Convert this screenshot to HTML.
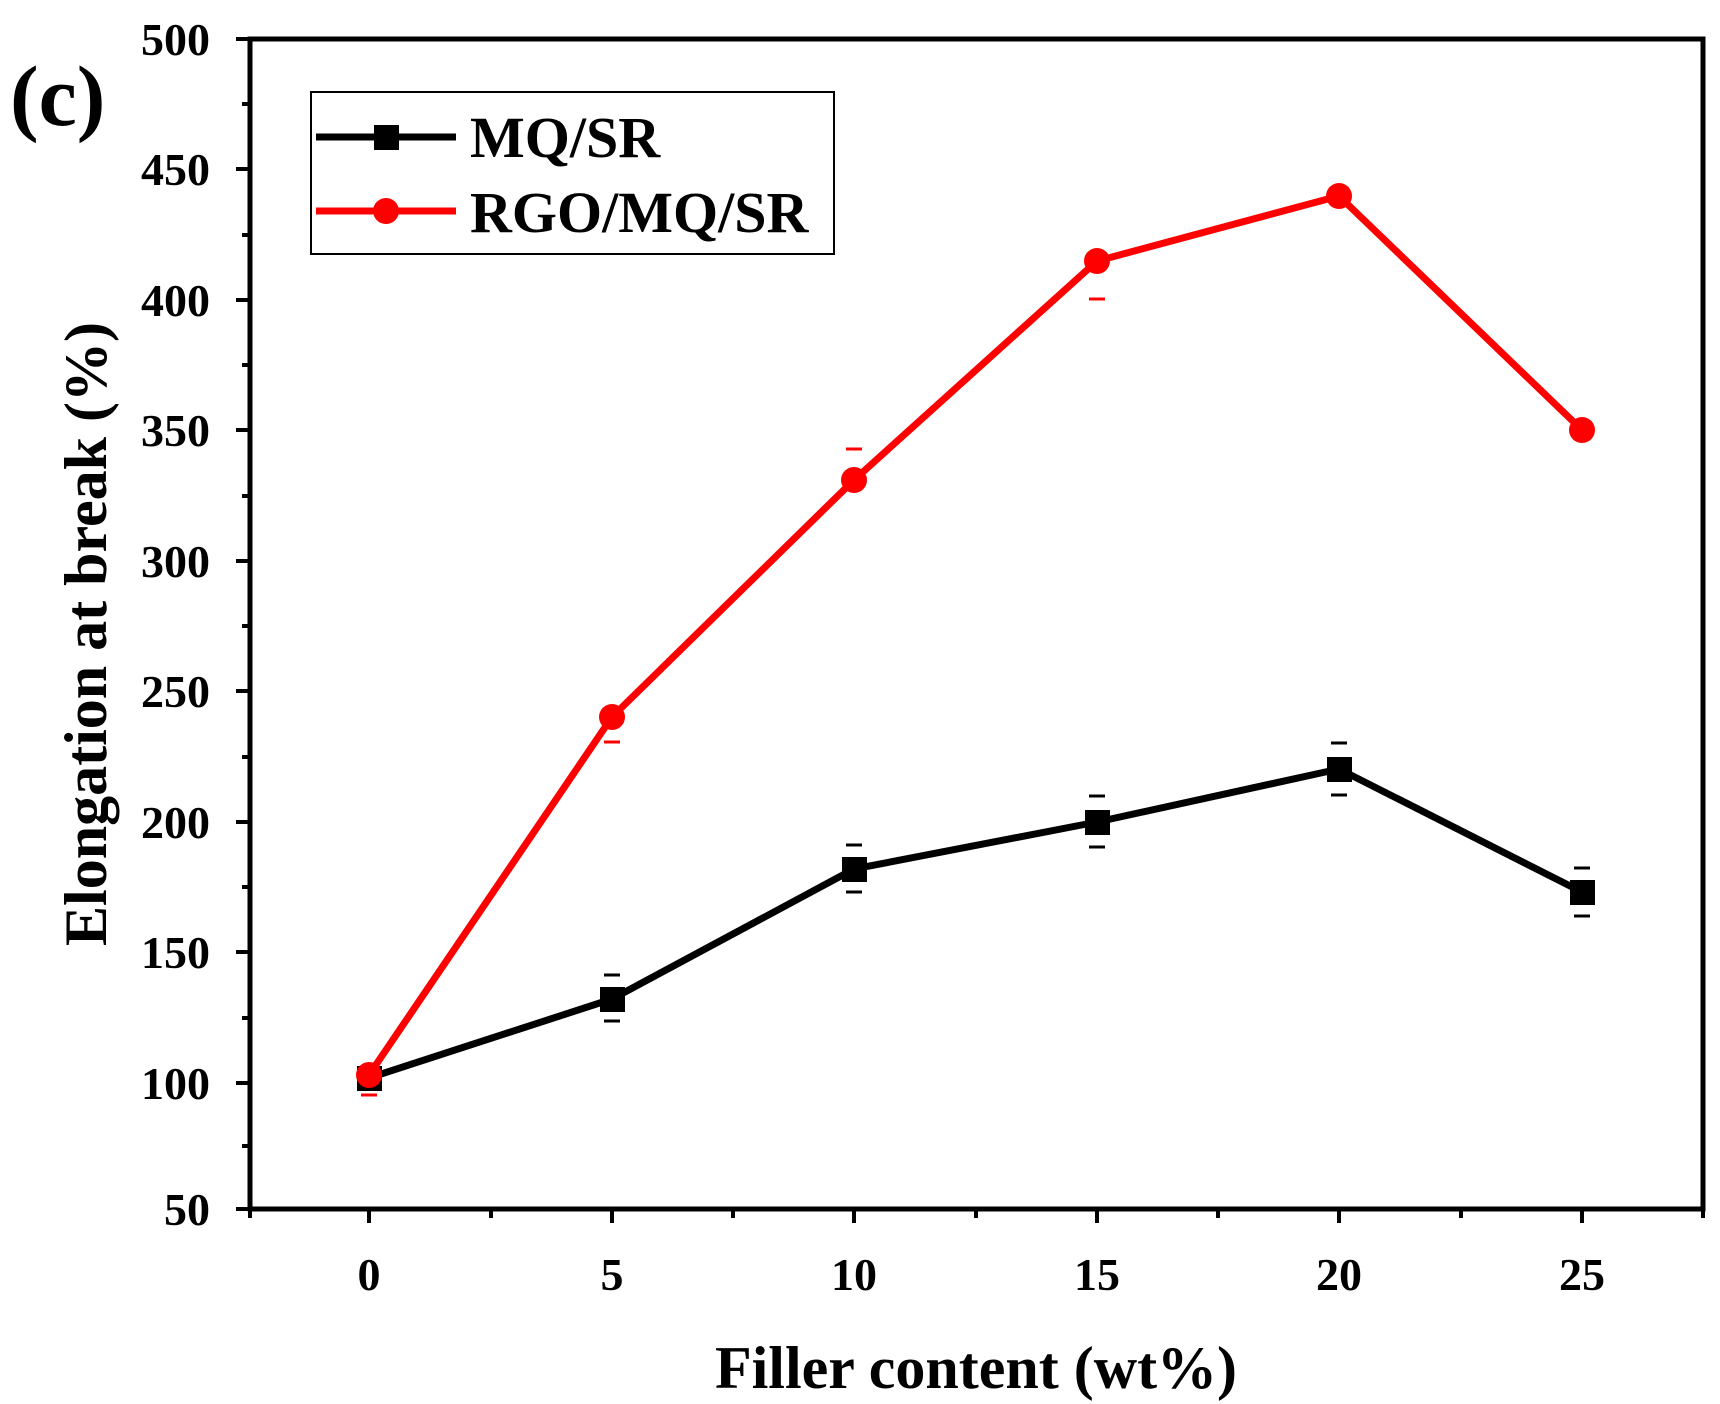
<!DOCTYPE html>
<html><head><style>body{margin:0;background:#fff}svg{display:block}text{font-family:"Liberation Serif",serif;font-weight:bold}</style></head>
<body>
<svg width="1720" height="1404" viewBox="0 0 1720 1404" xmlns="http://www.w3.org/2000/svg">
<rect width="1720" height="1404" fill="#fff"/>
<rect x="250" y="39" width="1453" height="1170" fill="none" stroke="#000" stroke-width="5"/>
<g stroke="#000" stroke-width="4">
<line x1="236" y1="39" x2="250" y2="39"/><line x1="242" y1="104" x2="250" y2="104"/>
<line x1="236" y1="169" x2="250" y2="169"/><line x1="242" y1="235" x2="250" y2="235"/>
<line x1="236" y1="300" x2="250" y2="300"/><line x1="242" y1="365" x2="250" y2="365"/>
<line x1="236" y1="430" x2="250" y2="430"/><line x1="242" y1="496" x2="250" y2="496"/>
<line x1="236" y1="561" x2="250" y2="561"/><line x1="242" y1="626" x2="250" y2="626"/>
<line x1="236" y1="691" x2="250" y2="691"/><line x1="242" y1="757" x2="250" y2="757"/>
<line x1="236" y1="822" x2="250" y2="822"/><line x1="242" y1="887" x2="250" y2="887"/>
<line x1="236" y1="952" x2="250" y2="952"/><line x1="242" y1="1018" x2="250" y2="1018"/>
<line x1="236" y1="1083" x2="250" y2="1083"/><line x1="242" y1="1146" x2="250" y2="1146"/>
<line x1="236" y1="1209" x2="250" y2="1209"/>
<line x1="250" y1="1209" x2="250" y2="1218"/>
<line x1="369" y1="1209" x2="369" y2="1223"/><line x1="491" y1="1209" x2="491" y2="1218"/>
<line x1="612" y1="1209" x2="612" y2="1223"/><line x1="733" y1="1209" x2="733" y2="1218"/>
<line x1="854" y1="1209" x2="854" y2="1223"/><line x1="976" y1="1209" x2="976" y2="1218"/>
<line x1="1097" y1="1209" x2="1097" y2="1223"/><line x1="1218" y1="1209" x2="1218" y2="1218"/>
<line x1="1339" y1="1209" x2="1339" y2="1223"/><line x1="1461" y1="1209" x2="1461" y2="1218"/>
<line x1="1582" y1="1209" x2="1582" y2="1223"/><line x1="1703" y1="1209" x2="1703" y2="1218"/>
</g>
<g font-size="46" text-anchor="end">
<text x="210" y="55">500</text><text x="210" y="185">450</text><text x="210" y="316">400</text>
<text x="210" y="446">350</text><text x="210" y="577">300</text><text x="210" y="707">250</text>
<text x="210" y="838">200</text><text x="210" y="968">150</text><text x="210" y="1099">100</text>
<text x="210" y="1225">50</text>
</g>
<g font-size="46" text-anchor="middle">
<text x="369" y="1290">0</text><text x="612" y="1290">5</text><text x="854" y="1290">10</text>
<text x="1097" y="1290">15</text><text x="1339" y="1290">20</text><text x="1582" y="1290">25</text>
</g>
<text x="976" y="1388" font-size="60" text-anchor="middle">Filler content (wt%)</text>
<text transform="translate(106,634) rotate(-90)" font-size="60" text-anchor="middle">Elongation at break (%)</text>
<text x="10" y="125" font-size="86">(c)</text>
<g stroke="#000" stroke-width="3">
<line x1="604" y1="975" x2="620" y2="975"/><line x1="604" y1="1021" x2="620" y2="1021"/>
<line x1="846" y1="845" x2="862" y2="845"/><line x1="846" y1="892" x2="862" y2="892"/>
<line x1="1089" y1="796" x2="1105" y2="796"/><line x1="1089" y1="847" x2="1105" y2="847"/>
<line x1="1331" y1="743" x2="1347" y2="743"/><line x1="1331" y1="795" x2="1347" y2="795"/>
<line x1="1574" y1="868" x2="1590" y2="868"/><line x1="1574" y1="916" x2="1590" y2="916"/>
</g>
<g stroke="#f00" stroke-width="3">
<line x1="361" y1="1095" x2="377" y2="1095"/>
<line x1="604" y1="742" x2="620" y2="742"/>
<line x1="846" y1="449" x2="862" y2="449"/>
<line x1="1089" y1="299" x2="1105" y2="299"/>
</g>
<polyline points="369,1078 612,999 854,869 1097,822 1339,769 1582,892" fill="none" stroke="#000" stroke-width="7"/>
<g fill="#000">
<rect x="357" y="1066" width="25" height="25"/><rect x="600" y="987" width="25" height="25"/>
<rect x="842" y="857" width="25" height="25"/><rect x="1085" y="810" width="25" height="25"/>
<rect x="1327" y="757" width="25" height="25"/><rect x="1570" y="880" width="25" height="25"/>
</g>
<polyline points="369,1075 612,717 854,480 1097,261 1339,196 1582,430" fill="none" stroke="#f00" stroke-width="7"/>
<g fill="#f00">
<circle cx="369" cy="1075" r="13"/><circle cx="612" cy="717" r="13"/><circle cx="854" cy="480" r="13"/>
<circle cx="1097" cy="261" r="13"/><circle cx="1339" cy="196" r="13"/><circle cx="1582" cy="430" r="13"/>
</g>
<rect x="311" y="92" width="523" height="162" fill="#fff" stroke="#000" stroke-width="2"/>
<line x1="316" y1="137" x2="456" y2="137" stroke="#000" stroke-width="7"/>
<rect x="374" y="125" width="25" height="25" fill="#000"/>
<text x="470" y="157" font-size="58">MQ/SR</text>
<line x1="316" y1="211" x2="456" y2="211" stroke="#f00" stroke-width="7"/>
<circle cx="386" cy="211" r="13" fill="#f00"/>
<text x="470" y="232" font-size="58">RGO/MQ/SR</text>
</svg>
</body></html>
